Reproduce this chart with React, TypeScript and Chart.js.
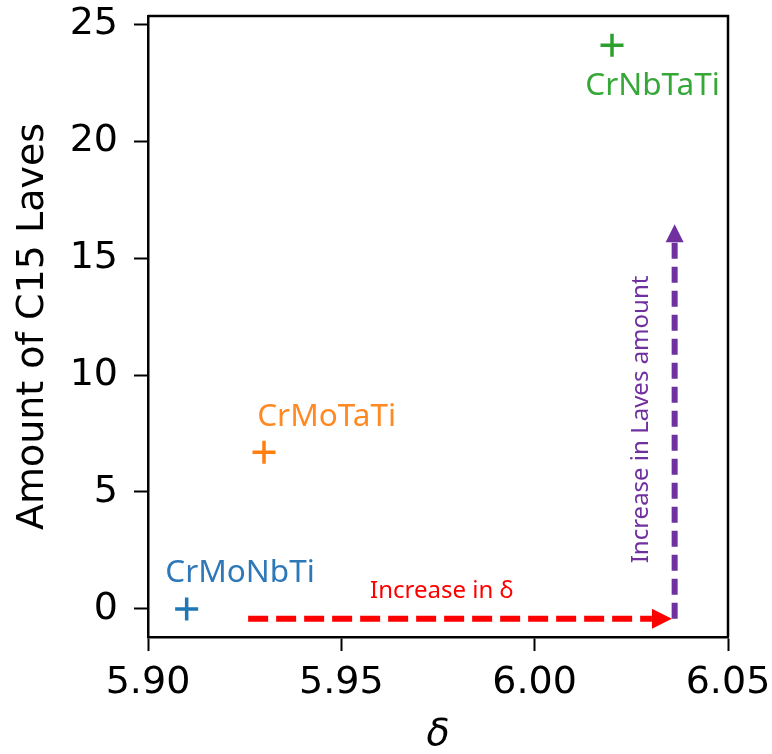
import React, { useEffect, useRef } from "react";
import { Chart, registerables } from "chart.js";

Chart.register(...registerables);

// ---- data ----
const alloys = ["CrMoNbTi", "CrMoTaTi", "CrNbTaTi"];
const deltaValues = [5.91, 5.93, 6.02];
const lavesAmounts = [0.0, 6.7, 24.1];
const markerColors = ["#1f77b4", "#ff7f0e", "#2ca02c"];
const labelColors = ["#2e78b8", "#ff8a24", "#35a838"];
const labelX = [5.9238, 5.9462, 6.0305];
const labelY = [1.55, 8.2, 22.35];

const xTicks = [5.9, 5.95, 6.0, 6.05];
const yTicks = [0, 5, 10, 15, 20, 25];
const xRange = [5.9, 6.05];
const yRange = [-1.2, 25.35];

const deltaArrowX = [5.9259, 6.0355];
const deltaArrowY = [-0.42, -0.42];
const lavesArrowX = [6.0362, 6.0362];
const lavesArrowY = [-0.42, 16.45];
const deltaNote = { text: "Increase in δ", x: 5.976, y: 0.75 };
const lavesNote = { text: "Increase in Laves amount", x: 6.0275, y: 8.1 };

const TICK_FONT = "'DejaVu Sans', sans-serif";
const NOTE_FONT = "'Noto Sans', sans-serif";

function drawArrow(
  ctx: CanvasRenderingContext2D,
  x1: number, y1: number, x2: number, y2: number,
  color: string, width: number, dash: number[], headLen: number, headW: number
) {
  const ang = Math.atan2(y2 - y1, x2 - x1);
  const bx = x2 - Math.cos(ang) * headLen;
  const by = y2 - Math.sin(ang) * headLen;
  ctx.save();
  ctx.strokeStyle = color;
  ctx.lineWidth = width;
  ctx.setLineDash(dash);
  ctx.lineCap = "butt";
  ctx.beginPath();
  ctx.moveTo(x1, y1);
  ctx.lineTo(bx, by);
  ctx.stroke();
  ctx.setLineDash([]);
  ctx.fillStyle = color;
  ctx.beginPath();
  ctx.moveTo(x2, y2);
  ctx.lineTo(bx + Math.sin(ang) * headW / 2, by - Math.cos(ang) * headW / 2);
  ctx.lineTo(bx - Math.sin(ang) * headW / 2, by + Math.cos(ang) * headW / 2);
  ctx.closePath();
  ctx.fill();
  ctx.restore();
}

const annotPlugin = {
  id: "annot",
  afterDatasetsDraw(chart: any) {
    const { ctx, chartArea, scales } = chart;
    const xs = scales.x;
    const ys = scales.y;
    // frame top / right
    ctx.save();
    ctx.strokeStyle = "#000";
    ctx.lineWidth = 2.5;
    ctx.beginPath();
    ctx.moveTo(chartArea.left, chartArea.top);
    ctx.lineTo(chartArea.right, chartArea.top);
    ctx.lineTo(chartArea.right, chartArea.bottom);
    ctx.stroke();
    ctx.restore();

    // point labels
    ctx.save();
    ctx.font = `31.5px ${NOTE_FONT}`;
    ctx.textAlign = "center";
    ctx.textBaseline = "middle";
    alloys.forEach((name, i) => {
      ctx.fillStyle = labelColors[i];
      ctx.fillText(name, xs.getPixelForValue(labelX[i]), ys.getPixelForValue(labelY[i]));
    });
    ctx.restore();

    // arrows
    drawArrow(
      ctx,
      xs.getPixelForValue(deltaArrowX[0]), ys.getPixelForValue(deltaArrowY[0]),
      xs.getPixelForValue(deltaArrowX[1]), ys.getPixelForValue(deltaArrowY[1]),
      "#ff0000", 6, [20, 8], 20, 20
    );
    drawArrow(
      ctx,
      xs.getPixelForValue(lavesArrowX[0]), ys.getPixelForValue(lavesArrowY[0]),
      xs.getPixelForValue(lavesArrowX[1]), ys.getPixelForValue(lavesArrowY[1]),
      "#7030a0", 6, [16, 8], 18, 18
    );

    // notes
    ctx.save();
    ctx.font = `24px ${NOTE_FONT}`;
    ctx.textAlign = "center";
    ctx.textBaseline = "middle";
    ctx.fillStyle = "#ff0000";
    ctx.fillText(deltaNote.text, xs.getPixelForValue(deltaNote.x), ys.getPixelForValue(deltaNote.y));
    ctx.translate(xs.getPixelForValue(lavesNote.x), ys.getPixelForValue(lavesNote.y));
    ctx.rotate(-Math.PI / 2);
    ctx.fillStyle = "#7030a0";
    ctx.fillText(lavesNote.text, 0, 0);
    ctx.restore();
  },
};

export default function App() {
  const ref = useRef<HTMLCanvasElement | null>(null);

  useEffect(() => {
    if (!ref.current) return;
    const datasets = alloys.map((name, i) => ({
      label: name,
      data: [{ x: deltaValues[i], y: lavesAmounts[i] }],
      pointStyle: "cross" as const,
      pointRadius: 11.5,
      pointHoverRadius: 11.5,
      pointBorderWidth: 3.5,
      borderColor: markerColors[i],
      backgroundColor: markerColors[i],
      showLine: false,
    }));

    const chart = new Chart(ref.current, {
      type: "scatter",
      data: { datasets },
      options: {
        responsive: false,
        animation: false,
        events: [],
        layout: { padding: { top: 16, right: 44, left: 0, bottom: 0 } },
        plugins: { legend: { display: false }, tooltip: { enabled: false } },
        scales: {
          x: {
            type: "linear",
            min: xRange[0],
            max: xRange[1],
            afterBuildTicks: (s: any) => {
              s.ticks = xTicks.map((v) => ({ value: v }));
            },
            afterFit: (s: any) => {
              s.height = 117;
              s.paddingLeft = 0;
              s.paddingRight = 0;
            },
            ticks: {
              color: "#000",
              font: { family: TICK_FONT, size: 38 },
              padding: 9,
              maxRotation: 0,
              autoSkip: false,
              callback: (v: any) => Number(v).toFixed(2),
            },
            grid: {
              drawOnChartArea: false,
              drawTicks: true,
              tickLength: 14,
              tickWidth: 2,
              color: "#000",
            },
            border: { display: true, color: "#000", width: 2.5 },
            title: {
              display: true,
              text: "δ",
              color: "#000",
              font: { family: TICK_FONT, size: 38, style: "italic", lineHeight: 1 },
              padding: { top: 0, bottom: 0 },
            },
          },
          y: {
            type: "linear",
            min: yRange[0],
            max: yRange[1],
            afterBuildTicks: (s: any) => {
              s.ticks = yTicks.map((v) => ({ value: v }));
            },
            afterFit: (s: any) => {
              s.width = 148;
              s.paddingTop = 0;
              s.paddingBottom = 0;
            },
            ticks: {
              color: "#000",
              font: { family: TICK_FONT, size: 38 },
              padding: 16,
              autoSkip: false,
            },
            grid: {
              drawOnChartArea: false,
              drawTicks: true,
              tickLength: 14,
              tickWidth: 2,
              color: "#000",
            },
            border: { display: true, color: "#000", width: 2.5 },
            title: {
              display: true,
              text: "Amount of C15 Laves",
              color: "#000",
              font: { family: TICK_FONT, size: 38 },
              padding: { top: 10, bottom: 0 },
            },
          },
        },
      },
      plugins: [annotPlugin],
    });
    return () => chart.destroy();
  }, []);

  return (
    <div style={{ position: "absolute", left: 0, top: 0, width: 772, height: 754, background: "#fff" }}>
      <canvas ref={ref} width={772} height={754} />
    </div>
  );
}
